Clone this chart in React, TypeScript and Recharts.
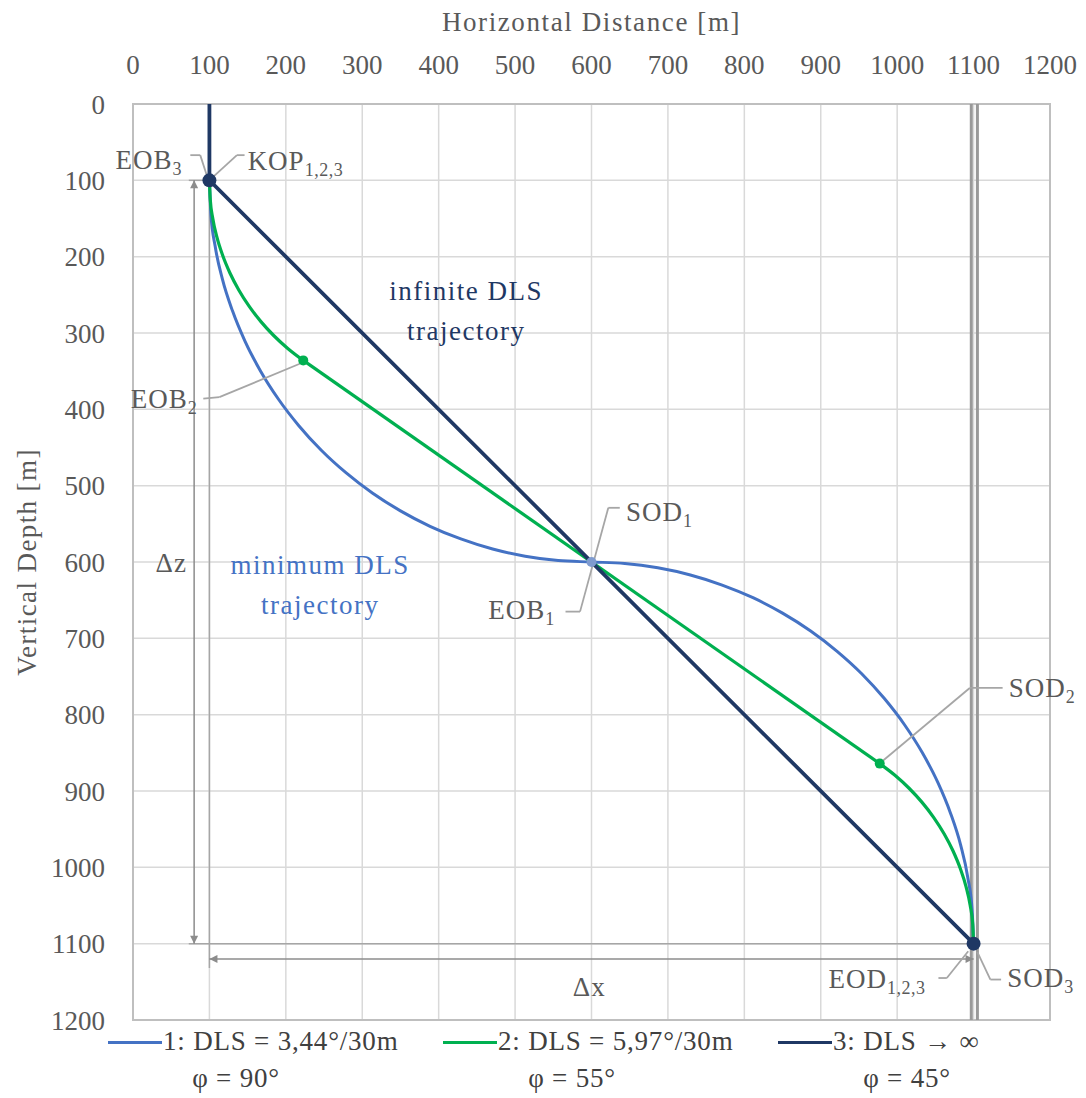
import React from 'react'
import {
  LineChart,
  Line,
  XAxis,
  YAxis,
  CartesianGrid,
  ReferenceLine,
  ReferenceDot,
  ReferenceArea,
} from 'recharts'

// axis ticks (m)
const xTicks = [0, 100, 200, 300, 400, 500, 600, 700, 800, 900, 1000, 1100, 1200]
const zTicks = [0, 100, 200, 300, 400, 500, 600, 700, 800, 900, 1000, 1100, 1200]

// trajectory 1: minimum DLS (3,44°/30m) as [x, z]
const minDlsPath: number[][] = [
  [100, 100], [101.9, 143.6], [107.6, 186.8], [117, 229.4], [130.2, 271],
  [146.8, 311.3], [167, 350], [190.4, 386.8], [217, 421.4], [246.4, 453.6],
  [278.6, 483], [313.2, 509.6], [350, 533], [388.7, 553.2], [429, 569.8],
  [470.6, 583], [513.2, 592.4], [556.4, 598.1], [600, 600],
  [643.6, 601.9], [686.8, 607.6], [729.4, 617], [771, 630.2], [811.3, 646.8],
  [850, 667], [886.8, 690.4], [921.4, 717], [953.6, 746.4], [983, 778.6],
  [1009.6, 813.2], [1033, 850], [1053.2, 888.7], [1069.8, 929], [1083, 970.6],
  [1092.4, 1013.2], [1098.1, 1056.4], [1100, 1100],
]

// trajectory 2: DLS 5,97°/30m (build, hold, drop)
const midBuild: number[][] = [
  [100, 100], [101.1, 125.1], [104.4, 150], [109.8, 174.5], [117.4, 198.5],
  [127, 221.7], [138.6, 244], [152.1, 265.2], [167.4, 285.1], [184.4, 303.6],
  [202.9, 320.6], [222.8, 335.9],
]
const midHold: number[][] = [[222.8, 335.9], [977.2, 864.1]]
const midDrop: number[][] = [
  [977.2, 864.1], [997.1, 879.4], [1015.6, 896.4], [1032.6, 914.9], [1047.9, 934.8],
  [1061.4, 956], [1073, 978.3], [1082.6, 1001.5], [1090.2, 1025.5], [1095.6, 1050],
  [1098.9, 1074.9], [1100, 1100],
]

// trajectory 3: infinite DLS (vertical section shared by all three)
const infDlsPath: number[][] = [[100, 0], [100, 100], [1100, 1100]]

// marked points
const kop = [100, 100]
const eob1 = [600, 600]
const eob2 = [222.8, 335.9]
const sod2 = [977.2, 864.1]
const eod = [1100, 1100]

const toRows = (pts: number[][]) => pts.map(([x, z]) => ({ x, z }))

const BLUE = '#4472C4'
const GREEN = '#00B050'
const NAVY = '#1F3864'
const GRAY = '#A6A6A6'
const TXT = '#595959'
const FONT = "'Liberation Serif', 'Times New Roman', serif"

// text labels: position in data units
const notes = [
  { x: 64, z: 85, anchor: 'end', main: 'EOB', sub: '3' },
  { x: 150, z: 86, anchor: 'start', main: 'KOP', sub: '1,2,3' },
  { x: 84, z: 398, anchor: 'end', main: 'EOB', sub: '2' },
  { x: 645, z: 546, anchor: 'start', main: 'SOD', sub: '1' },
  { x: 552, z: 675, anchor: 'end', main: 'EOB', sub: '1' },
  { x: 1146, z: 777, anchor: 'start', main: 'SOD', sub: '2' },
  { x: 1037, z: 1158, anchor: 'end', main: 'EOD', sub: '1,2,3' },
  { x: 1144, z: 1157, anchor: 'start', main: 'SOD', sub: '3' },
  { x: 50, z: 613, anchor: 'middle', main: '\u0394z', sub: '' },
  { x: 597, z: 1168, anchor: 'middle', main: '\u0394x', sub: '' },
]

// leader lines
const leaders: number[][][] = [
  [[75, 67], [88, 67], [98, 98]],
  [[102, 98], [136, 67], [146, 67]],
  [[92, 386], [113, 384], [219, 340]],
  [[637, 529], [622, 529], [585, 665], [566, 665]],
  [[977, 864], [1095, 765], [1138, 765]],
  [[1054, 1145], [1065, 1145], [1093, 1110]],
  [[1105, 1111], [1122, 1147], [1136, 1147]],
]

// dimension / extension lines
const extLines: number[][][] = [
  [[73, 100], [100, 100]],
  [[73, 1100], [1100, 1100]],
  [[100, 100], [100, 1132]],
]
const arrows: number[][][] = [
  [[80, 100], [80, 1100]],
  [[100, 1120], [1100, 1120]],
]

const segments = (lines: number[][][]) =>
  lines.flatMap((pl) => pl.slice(1).map((p, i) => [pl[i], p]))

const arrowShape = (p: any) => (
  <line
    x1={p.x1}
    y1={p.y1}
    x2={p.x2}
    y2={p.y2}
    stroke="#8C8C8C"
    strokeWidth={1.5}
    markerStart="url(#dimArrow)"
    markerEnd="url(#dimArrow)"
  />
)

function Legend() {
  const items = [
    { color: BLUE, x: 108, text: '1: DLS = 3,44°/30m', phi: 'φ = 90°', phiX: 236 },
    { color: GREEN, x: 443, text: '2: DLS = 5,97°/30m', phi: 'φ = 55°', phiX: 572 },
    { color: NAVY, x: 778, text: '3: DLS \u2192 \u221e', phi: 'φ = 45°', phiX: 907 },
  ]
  const base: React.CSSProperties = {
    position: 'absolute',
    fontFamily: FONT,
    fontSize: 27,
    color: '#404040',
    whiteSpace: 'nowrap',
    lineHeight: '30px',
    letterSpacing: 0.8,
  }
  return (
    <>
      {items.map((it) => (
        <React.Fragment key={it.text}>
          <div style={{ position: 'absolute', left: it.x, top: 1041, width: 54, height: 3, background: it.color }} />
          <div style={{ ...base, left: it.x + 55, top: 1026 }}>{it.text}</div>
          <div style={{ ...base, left: it.phiX, top: 1063, transform: 'translateX(-50%)' }}>{it.phi}</div>
        </React.Fragment>
      ))}
    </>
  )
}

export default function App() {
  return (
    <div style={{ position: 'absolute', left: 0, top: 0, width: 1086, height: 1098, background: '#fff' }}>
      <LineChart width={1086} height={1098} margin={{ top: 44, right: 36, bottom: 78, left: 43 }}>
        <defs>
          <marker
            id="dimArrow"
            viewBox="0 0 10 10"
            refX="10"
            refY="5"
            markerWidth="14"
            markerHeight="8"
            markerUnits="userSpaceOnUse"
            orient="auto-start-reverse"
          >
            <path d="M0,0 L10,5 L0,10 z" fill="#8C8C8C" />
          </marker>
        </defs>
        <CartesianGrid stroke="#D9D9D9" strokeWidth={1.5} />
        <XAxis
          dataKey="x"
          type="number"
          orientation="top"
          domain={[0, 1200]}
          ticks={xTicks}
          height={60}
          axisLine={false}
          tickLine={false}
          tickSize={0}
          tickMargin={30}
          tick={{ fill: TXT, fontSize: 27, fontFamily: FONT }}
          label={{
            value: 'Horizontal Distance [m]',
            position: 'top',
            offset: 13,
            fill: TXT,
            fontSize: 27,
            fontFamily: FONT,
            letterSpacing: 1.6,
          }}
        />
        <YAxis
          dataKey="z"
          type="number"
          reversed
          domain={[0, 1200]}
          ticks={zTicks}
          width={90}
          axisLine={false}
          tickLine={false}
          tickSize={0}
          tickMargin={28}
          tick={{ fill: TXT, fontSize: 27, fontFamily: FONT }}
          label={{
            content: (props: any) => {
              const vb = props.viewBox || { x: 43, y: 104, height: 916 }
              const cx = vb.x - 16
              const cy = vb.y + vb.height / 2
              return (
                <text
                  x={cx}
                  y={cy}
                  transform={`rotate(-90, ${cx}, ${cy})`}
                  textAnchor="middle"
                  dominantBaseline="central"
                  fill={TXT}
                  fontSize={27}
                  fontFamily={FONT}
                  letterSpacing={1.4}
                >
                  Vertical Depth [m]
                </text>
              )
            },
          }}
        />
        <ReferenceArea x1={0} x2={1200} y1={0} y2={1200} fill="none" fillOpacity={0} stroke="#BFBFBF" strokeWidth={2} />

        {/* casing / target double line */}
        <ReferenceLine x={1097} stroke="#999999" strokeWidth={3} />
        <ReferenceLine x={1105} stroke="#999999" strokeWidth={3} />

        {segments(extLines).map((s, i) => (
          <ReferenceLine
            key={'ext' + i}
            segment={[{ x: s[0][0], y: s[0][1] }, { x: s[1][0], y: s[1][1] }]}
            stroke={GRAY}
            strokeWidth={1.5}
            ifOverflow="visible"
          />
        ))}
        {arrows.map((s, i) => (
          <ReferenceLine
            key={'arr' + i}
            segment={[{ x: s[0][0], y: s[0][1] }, { x: s[1][0], y: s[1][1] }]}
            shape={arrowShape}
            ifOverflow="visible"
          />
        ))}

        <Line data={toRows(minDlsPath)} dataKey="z" type="monotone" stroke={BLUE} strokeWidth={3} dot={false} isAnimationActive={false} />
        <Line data={toRows(midBuild)} dataKey="z" type="monotone" stroke={GREEN} strokeWidth={3.2} dot={false} isAnimationActive={false} />
        <Line data={toRows(midHold)} dataKey="z" type="linear" stroke={GREEN} strokeWidth={3.2} dot={false} isAnimationActive={false} />
        <Line data={toRows(midDrop)} dataKey="z" type="monotone" stroke={GREEN} strokeWidth={3.2} dot={false} isAnimationActive={false} />
        <Line data={toRows(infDlsPath)} dataKey="z" type="linear" stroke={NAVY} strokeWidth={3.8} dot={false} isAnimationActive={false} />

        {segments(leaders).map((s, i) => (
          <ReferenceLine
            key={'ld' + i}
            segment={[{ x: s[0][0], y: s[0][1] }, { x: s[1][0], y: s[1][1] }]}
            stroke={GRAY}
            strokeWidth={1.8}
            ifOverflow="visible"
          />
        ))}

        <ReferenceDot x={kop[0]} y={kop[1]} r={7} fill={NAVY} stroke="none" />
        <ReferenceDot x={eob1[0]} y={eob1[1]} r={5} fill="#7F9BCF" stroke="none" />
        <ReferenceDot x={eob2[0]} y={eob2[1]} r={5} fill={GREEN} stroke="none" />
        <ReferenceDot x={sod2[0]} y={sod2[1]} r={5} fill={GREEN} stroke="none" />
        <ReferenceDot x={eod[0]} y={eod[1]} r={7} fill={NAVY} stroke="none" />

        {notes.map((n, i) => (
          <ReferenceDot
            key={'nt' + i}
            x={n.x}
            y={n.z}
            r={0}
            ifOverflow="visible"
            shape={(p: any) => (
              <text
                x={p.cx}
                y={p.cy}
                textAnchor={n.anchor}
                fill={TXT}
                fontSize={27}
                fontFamily={FONT}
                letterSpacing={1}
              >
                <tspan>{n.main}</tspan>
                {n.sub ? (
                  <tspan fontSize={18} dy={6} letterSpacing={0.5}>
                    {n.sub}
                  </tspan>
                ) : null}
              </text>
            )}
          />
        ))}

        <ReferenceDot
          x={436}
          y={257}
          r={0}
          ifOverflow="visible"
          shape={(p: any) => (
            <text textAnchor="middle" fill={NAVY} fontSize={27} fontFamily={FONT} letterSpacing={1.5}>
              <tspan x={p.cx} y={p.cy}>infinite DLS</tspan>
              <tspan x={p.cx} y={p.cy + 40}>trajectory</tspan>
            </text>
          )}
        />
        <ReferenceDot
          x={245}
          y={616}
          r={0}
          ifOverflow="visible"
          shape={(p: any) => (
            <text textAnchor="middle" fill={BLUE} fontSize={27} fontFamily={FONT} letterSpacing={1.5}>
              <tspan x={p.cx} y={p.cy}>minimum DLS</tspan>
              <tspan x={p.cx} y={p.cy + 40}>trajectory</tspan>
            </text>
          )}
        />
      </LineChart>
      <Legend />
    </div>
  )
}
